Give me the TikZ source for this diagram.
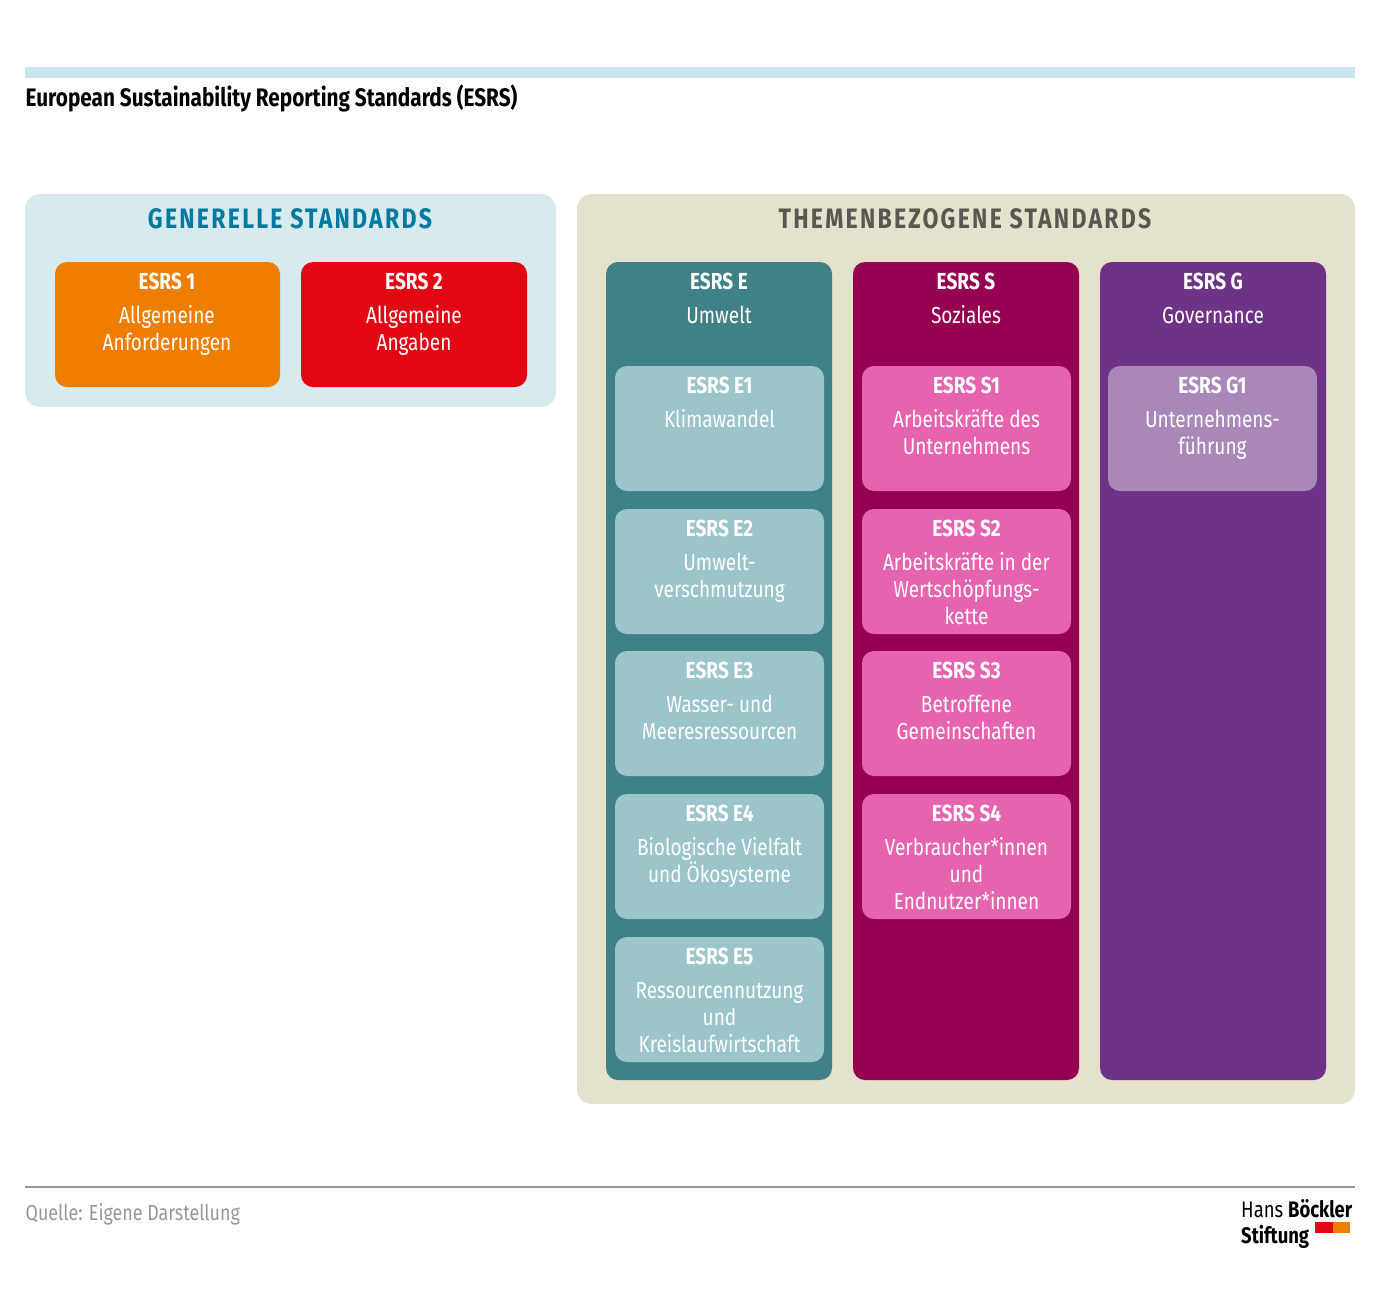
\documentclass[tikz,border=0pt]{standalone}
\usepackage{fontspec}
\setmainfont{Fira Sans}[FakeStretch=0.82]
\usepackage{tikz}
\usetikzlibrary{positioning}
\definecolor{barColor}{RGB}{200,230,238}
\definecolor{generalColor}{RGB}{215,234,237}
\definecolor{generalTitle}{RGB}{0,122,160}
\definecolor{topicColor}{RGB}{228,225,205}
\definecolor{topicTitle}{RGB}{88,88,78}
\definecolor{esrsOne}{RGB}{238,125,0}
\definecolor{esrsTwo}{RGB}{227,6,19}
\definecolor{envColor}{RGB}{64,128,135}
\definecolor{envBox}{RGB}{155,196,203}
\definecolor{socColor}{RGB}{150,0,80}
\definecolor{socBox}{RGB}{230,100,175}
\definecolor{govColor}{RGB}{110,50,135}
\definecolor{govBox}{RGB}{170,135,185}
\definecolor{lineGray}{RGB}{150,150,150}
\tikzstyle{panel} = [rounded corners = .15cm]
\tikzstyle{column} = [rounded corners = .12cm]
\tikzstyle{boxText} = [text=white, align=center, font=\fontsize{6.6}{7.6}\selectfont, anchor=north, inner sep=0pt]
\tikzstyle{panelTitle} = [font=\fontsize{8}{9}\selectfont\bfseries, anchor=center]
\newcommand{\letterspace}[1]{\addfontfeatures{LetterSpace=8}#1}
% box: x left, y top, colour, name, head, body
\newcommand{\esrsBox}[6]{
  \fill [column, #3] (#1, #2) rectangle + (209, 125);
  \node [boxText] (#4) at (#1 + 104.5, #2 + 10) {\textbf{#5}\\[2.2pt]#6};
}
\begin{document}
\begin{tikzpicture}[x = .01cm, y = -.01cm]
  \useasboundingbox (0,0) rectangle (1380,1296);
  % head
  \fill [barColor] (25,67) rectangle (1355,78);
  \node [anchor=west, inner sep=0pt, font=\fontsize{7.2}{8}\selectfont\bfseries] (title) at (25,98) {European Sustainability Reporting Standards (ESRS)};

  % general standards
  \fill [panel, generalColor] (25,194) rectangle (556,407);
  \node [panelTitle, text=generalTitle] (generalHead) at (290,219) {\letterspace{GENERELLE STANDARDS}};
  \fill [column, esrsOne] (55,262) rectangle (280,387);
  \node [boxText] (esrsOneText) at (167,272) {\textbf{ESRS 1}\\[2.2pt]Allgemeine\\Anforderungen};
  \fill [column, esrsTwo] (301,262) rectangle (527,387);
  \node [boxText] (esrsTwoText) at (414,272) {\textbf{ESRS 2}\\[2.2pt]Allgemeine\\Angaben};

  % topical standards
  \fill [panel, topicColor] (577,194) rectangle (1355,1104);
  \node [panelTitle, text=topicTitle] (topicHead) at (965,219) {\letterspace{THEMENBEZOGENE STANDARDS}};
  \fill [column, envColor] (606,262) rectangle (832,1080);
  \node [boxText] (envHead) at (719,272) {\textbf{ESRS E}\\[2.2pt]Umwelt};
  \fill [column, socColor] (853,262) rectangle (1079,1080);
  \node [boxText] (socHead) at (966,272) {\textbf{ESRS S}\\[2.2pt]Soziales};
  \fill [column, govColor] (1100,262) rectangle (1326,1080);
  \node [boxText] (govHead) at (1213,272) {\textbf{ESRS G}\\[2.2pt]Governance};

  \esrsBox{615}{366}{envBox}{eOne}{ESRS E1}{Klimawandel}
  \esrsBox{615}{509}{envBox}{eTwo}{ESRS E2}{Umwelt-\\verschmutzung}
  \esrsBox{615}{651}{envBox}{eThree}{ESRS E3}{Wasser- und\\Meeresressourcen}
  \esrsBox{615}{794}{envBox}{eFour}{ESRS E4}{Biologische Vielfalt\\und Ökosysteme}
  \esrsBox{615}{937}{envBox}{eFive}{ESRS E5}{Ressourcennutzung\\und\\Kreislaufwirtschaft}

  \esrsBox{862}{366}{socBox}{sOne}{ESRS S1}{Arbeitskräfte des\\Unternehmens}
  \esrsBox{862}{509}{socBox}{sTwo}{ESRS S2}{Arbeitskräfte in der\\Wertschöpfungs-\\kette}
  \esrsBox{862}{651}{socBox}{sThree}{ESRS S3}{Betroffene\\Gemeinschaften}
  \esrsBox{862}{794}{socBox}{sFour}{ESRS S4}{Verbraucher*innen\\und\\Endnutzer*innen}

  \esrsBox{1108}{366}{govBox}{gOne}{ESRS G1}{Unternehmens-\\führung}

  % foot
  \draw [lineGray, line width=.6pt] (25,1187) -- (1355,1187);
  \node [anchor=west, inner sep=0pt, text=lineGray, font=\fontsize{6.2}{7}\selectfont] (source) at (25,1214) {Quelle: Eigene Darstellung};
  \node [anchor=north east, align=left, inner sep=0pt, font=\fontsize{6.4}{7.4}\selectfont] (logo) at (1353,1199) {Hans \textbf{Böckler}\\\textbf{Stiftung}\hspace{1.25cm}};
  \fill [esrsTwo] (1315,1222) rectangle (1333,1233);
  \fill [esrsOne] (1333,1222) rectangle (1350,1233);
\end{tikzpicture}
\end{document}
